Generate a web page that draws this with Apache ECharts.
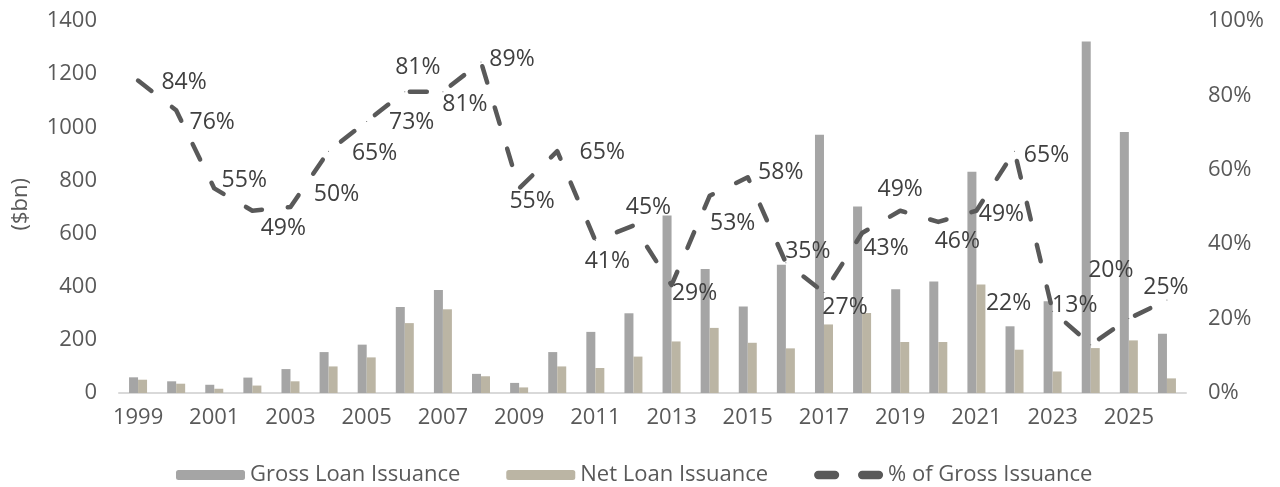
<!DOCTYPE html>
<html>
<head>
<meta charset="utf-8">
<script src="https://cdn.jsdelivr.net/npm/echarts@6/dist/echarts.min.js"></script>
<style>
  html, body { margin: 0; padding: 0; background: #fff; }
  #main { width: 1280px; height: 487px; }
</style>
</head>
<body>
<div id="main"></div>
<script>
// categories
const years = ['1999', '2000', '2001', '2002', '2003', '2004', '2005', '2006', '2007', '2008',
  '2009', '2010', '2011', '2012', '2013', '2014', '2015', '2016', '2017', '2018',
  '2019', '2020', '2021', '2022', '2023', '2024', '2025', '2026'];

// $bn
const grossIssuance = [59, 44, 31, 58, 90, 154, 182, 324, 388, 72,
  38, 154, 230, 300, 668, 467, 326, 483, 972, 702,
  390, 420, 833, 251, 345, 1323, 982, 223];
const netIssuance = [50, 35, 16, 28, 44, 100, 134, 263, 315, 63,
  21, 100, 94, 137, 194, 245, 189, 168, 258, 301,
  192, 192, 408, 163, 81, 169, 198, 55];

// % of gross
const pctOfGross = [0.84, 0.76, 0.55, 0.49, 0.50, 0.65, 0.73, 0.81, 0.81, 0.89,
  0.55, 0.65, 0.41, 0.45, 0.29, 0.53, 0.58, 0.35, 0.27, 0.43,
  0.49, 0.46, 0.49, 0.65, 0.22, 0.13, 0.20, 0.25];

// where each % label sits, relative to its point (px)
const labelOffsets = [[46, 2], [36, 12], [30, -8], [31, 18], [46, -13], [46, 2], [45, 1], [13, -24], [22, 13], [31, -2],
  [13, 13], [45, 1], [12, 21], [15, -18], [23, 8], [23, 28], [33, -5], [22, -11], [21, 15], [24, 15],
  [0, -21], [19, 20], [25, 4], [32, 4], [-44, -8], [-16, -39], [-18, -48], [-1, -13]];

const font = 'Open Sans';
const textGrey = '#595959';
// two rounded dashes for the legend
const dashIcon = 'path://M4,0H20A4,4 0 0 1 20,8H4A4,4 0 0 1 4,0Z M46,0H62A4,4 0 0 1 62,8H46A4,4 0 0 1 46,0Z';

const chart = echarts.init(document.getElementById('main'));

const option = {
  backgroundColor: '#fff',
  animation: false,
  textStyle: { fontFamily: font },
  grid: { left: 119, right: 94, top: 21, bottom: 94 },
  legend: {
    top: 459,
    left: 171,
    itemWidth: 69,
    itemHeight: 10,
    itemGap: 46,
    textStyle: { color: textGrey, fontSize: 22, fontFamily: font },
    data: [
      { name: 'Gross Loan Issuance' },
      { name: 'Net Loan Issuance' },
      { name: '% of Gross Issuance', icon: dashIcon, itemStyle: { color: '#595959' } },
    ],
  },
  graphic: [
    {
      type: 'text',
      left: 10,
      top: 178,
      rotation: Math.PI / 2,
      style: { text: '($bn)', fill: textGrey, font: '22px "Open Sans"' },
    },
  ],
  xAxis: {
    type: 'category',
    data: years,
    axisLine: { lineStyle: { color: '#d9d9d9', width: 2 } },
    axisTick: { show: false },
    axisLabel: { interval: 1, color: textGrey, fontSize: 22, margin: 14 },
  },
  yAxis: [
    {
      type: 'value',
      min: 0,
      max: 1400,
      interval: 200,
      splitLine: { show: false },
      axisLine: { show: false },
      axisLabel: { color: textGrey, fontSize: 22, margin: 22, formatter: v => String(v) },
    },
    {
      type: 'value',
      min: 0,
      max: 1,
      interval: 0.2,
      splitLine: { show: false },
      axisLine: { show: false },
      axisLabel: {
        color: textGrey,
        fontSize: 22,
        margin: 22,
        formatter: v => Math.round(v * 100) + '%',
      },
    },
  ],
  series: [
    {
      name: 'Gross Loan Issuance',
      type: 'bar',
      barWidth: 9,
      barGap: '0%',
      itemStyle: { color: '#a5a5a5' },
      data: grossIssuance,
    },
    {
      name: 'Net Loan Issuance',
      type: 'bar',
      barWidth: 9,
      itemStyle: { color: '#bbb5a4' },
      data: netIssuance,
    },
    {
      name: '% of Gross Issuance',
      type: 'line',
      yAxisIndex: 1,
      z: 5,
      symbol: 'circle',
      symbolSize: 1,
      itemStyle: { color: '#595959' },
      lineStyle: { color: '#595959', width: 4.5, type: [17, 26], cap: 'round', join: 'round' },
      label: {
        show: true,
        position: 'inside',
        color: '#404040',
        fontSize: 23,
        formatter: p => Math.round(p.value * 100) + '%',
      },
      data: pctOfGross.map((v, i) => ({ value: v, label: { offset: labelOffsets[i] } })),
    },
  ],
};

chart.setOption(option);
</script>
</body>
</html>
